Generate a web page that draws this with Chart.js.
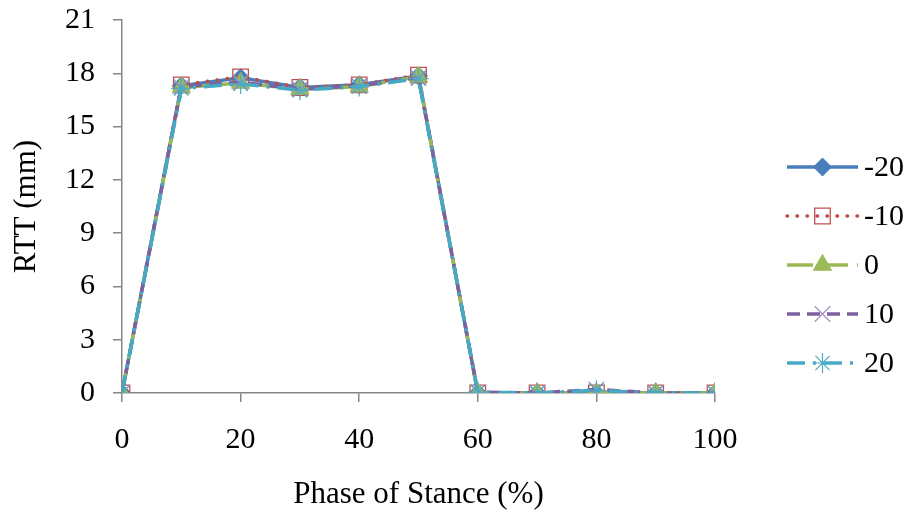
<!DOCTYPE html>
<html>
<head>
<meta charset="utf-8">
<script src="https://cdn.jsdelivr.net/npm/chart.js@4.4.1/dist/chart.umd.min.js"></script>
<style>
  html, body { margin: 0; padding: 0; background: #ffffff; }
  #wrap { width: 913px; height: 510px; position: relative; }
</style>
</head>
<body>
<div id="wrap"><canvas id="c" width="913" height="510"></canvas></div>
<script>
// ---- data ----
const categories = [0, 10, 20, 30, 40, 50, 60, 70, 80, 90, 100];
const seriesLabels = ['-20', '-10', '0', '10', '20'];
const valuesM20 = [0, 17.30, 17.75, 17.20, 17.35, 17.85, 0, 0, 0, 0, 0];
const valuesM10 = [0, 17.35, 17.80, 17.20, 17.35, 17.90, 0, 0, 0, 0, 0];
const values0   = [0, 17.20, 17.45, 17.10, 17.25, 17.80, 0, 0, 0, 0, 0];
const values10  = [0, 17.25, 17.50, 17.10, 17.30, 17.75, 0.05, 0, 0.20, 0, 0];
const values20  = [0, 17.15, 17.40, 17.05, 17.25, 17.70, 0.05, 0, 0.15, 0, 0];
const yTickValues = [0, 3, 6, 9, 12, 15, 18, 21];
const xTickValues = [0, 20, 40, 60, 80, 100];

const FONT = "'Liberation Serif', 'Times New Roman', serif";

function pts(vals) { return categories.map((x, i) => ({ x: x, y: vals[i] })); }

const datasets = [
  { label: seriesLabels[0], data: pts(valuesM20), borderColor: '#4A7EBB', borderWidth: 3.5, borderDash: [],
    pointStyle: 'rectRot', pointRadius: 9, pointBackgroundColor: '#4A7EBB', pointBorderColor: '#4A7EBB', pointBorderWidth: 1, order: 4 },
  { label: seriesLabels[1], data: pts(valuesM10), borderColor: '#BE4B48', borderWidth: 3.5, borderDash: [0.5, 9.5], borderCapStyle: 'round',
    pointStyle: 'rect', pointRadius: 11, pointBackgroundColor: 'rgba(0,0,0,0)', pointBorderColor: '#C0504D', pointBorderWidth: 1.3, order: 3 },
  { label: seriesLabels[2], data: pts(values0), borderColor: '#98B954', borderWidth: 3.5, borderDash: [26, 9],
    pointStyle: 'triangle', pointRadius: 10.5, pointBackgroundColor: '#9BBB59', pointBorderColor: '#9BBB59', pointBorderWidth: 1, order: 2 },
  { label: seriesLabels[3], data: pts(values10), borderColor: '#7D60A0', borderWidth: 3.5, borderDash: [13, 7],
    pointStyle: 'crossRot', pointRadius: 11, pointBackgroundColor: 'rgba(0,0,0,0)', pointBorderColor: '#A48FC4', pointBorderWidth: 1.2, order: 1 },
  { label: seriesLabels[4], data: pts(values20), borderColor: '#46AAC5', borderWidth: 3.5, borderDash: [18, 8, 3, 8],
    pointStyle: 'star', pointRadius: 10, pointBackgroundColor: 'rgba(0,0,0,0)', pointBorderColor: '#4BACC6', pointBorderWidth: 1.2, order: 0 }
];

const legendPlugin = {
  id: 'excelLegend',
  afterDraw(chart) {
    const ctx = chart.ctx;
    const x0 = 787, x1 = 858, top = 167, step = 49;
    chart.data.datasets.forEach((ds, i) => {
      const y = top + i * step;
      ctx.save();
      ctx.strokeStyle = ds.borderColor;
      ctx.lineWidth = ds.borderWidth;
      ctx.lineCap = ds.borderCapStyle || 'butt';
      ctx.setLineDash(ds.borderDash || []);
      ctx.beginPath(); ctx.moveTo(x0, y); ctx.lineTo(x1, y); ctx.stroke();
      ctx.setLineDash([]);
      ctx.lineCap = 'butt';
      ctx.fillStyle = ds.pointBackgroundColor;
      ctx.strokeStyle = ds.pointBorderColor;
      ctx.lineWidth = ds.pointBorderWidth;
      Chart.helpers.drawPoint(ctx, { pointStyle: ds.pointStyle, radius: ds.pointRadius, borderWidth: ds.pointBorderWidth, rotation: 0 }, (x0 + x1) / 2, y);
      ctx.fillStyle = '#000000';
      ctx.font = '30px ' + FONT;
      ctx.textAlign = 'left';
      ctx.textBaseline = 'middle';
      ctx.fillText(ds.label, 864, y + 1);
      ctx.restore();
    });
  }
};

new Chart(document.getElementById('c'), {
  type: 'line',
  data: { datasets: datasets },
  plugins: [legendPlugin],
  options: {
    responsive: false,
    animation: false,
    devicePixelRatio: 1,
    layout: { padding: { left: 0, right: 198, top: 20, bottom: 0 } },
    plugins: { legend: { display: false }, tooltip: { enabled: false } },
    elements: { line: { tension: 0, fill: false } },
    scales: {
      x: {
        type: 'linear', min: 0, max: 100,
        afterBuildTicks(scale) { scale.ticks = xTickValues.map(v => ({ value: v })); },
        afterFit(scale) { scale.height = 117; },
        border: { display: true, color: '#868686', width: 1.5 },
        grid: { display: true, drawOnChartArea: false, drawTicks: true, tickLength: 9, color: '#868686', lineWidth: 1.5 },
        ticks: { color: '#000000', font: { family: FONT, size: 30 }, padding: 20, maxRotation: 0, autoSkip: false },
        title: { display: true, text: 'Phase of Stance (%)', color: '#000000', font: { family: FONT, size: 31 }, padding: { top: 8, bottom: -3 } }
      },
      y: {
        type: 'linear', min: 0, max: 21,
        afterBuildTicks(scale) { scale.ticks = yTickValues.map(v => ({ value: v })); },
        afterFit(scale) { scale.width = 122; scale.paddingTop = 0; scale.paddingBottom = 0; },
        border: { display: true, color: '#868686', width: 1.5 },
        grid: { display: true, drawOnChartArea: false, drawTicks: true, tickLength: 9, color: '#868686', lineWidth: 1.5 },
        ticks: { color: '#000000', font: { family: FONT, size: 30 }, padding: 18 },
        title: { display: true, text: 'RTT (mm)', color: '#000000', font: { family: FONT, size: 31 }, padding: { top: 8, bottom: 0 } }
      }
    }
  }
});
</script>
</body>
</html>
